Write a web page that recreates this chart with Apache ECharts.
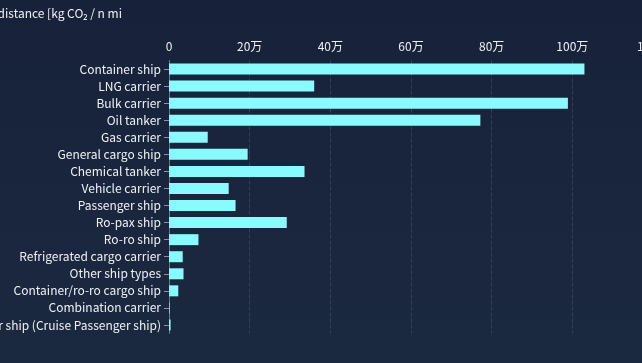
<!DOCTYPE html>
<html><head><meta charset="utf-8">
<script src="https://cdn.jsdelivr.net/npm/echarts@6/dist/echarts.min.js"></script>
<style>html,body{margin:0;padding:0;background:#18233a;}#c{width:642px;height:363px;}</style>
</head><body><div id="c"></div>
<script>
const categories = ["Container ship","LNG carrier","Bulk carrier","Oil tanker","Gas carrier","General cargo ship","Chemical tanker","Vehicle carrier","Passenger ship","Ro-pax ship","Ro-ro ship","Refrigerated cargo carrier","Other ship types","Container/ro-ro cargo ship","Combination carrier","Passenger ship (Cruise Passenger ship)"];
const values = [1030000,360000,989000,772000,96000,195000,336000,148000,165000,292000,73000,34000,36000,23000,1500,4000];
const titleText = "Average CO₂ emissions per distance [kg CO₂ / n mi";
const font = "'Noto Sans CJK SC', 'Noto Sans', sans-serif";
const chart = echarts.init(document.getElementById('c'));
chart.setOption({
  backgroundColor: new echarts.graphic.LinearGradient(0,0,0,1,[{offset:0,color:'#17223a'},{offset:1,color:'#1b2940'}]),
  title: {text: titleText, left: 117, top: 2, textAlign: 'right', textStyle: {color:'#eef1f5', fontSize: 12, fontWeight: 'normal', fontFamily: font}},
  grid: {left: 169, right: -11, top: 60.5, bottom: 29.5, containLabel: false, outerBoundsMode: 'none'},
  xAxis: {type:'value', position:'top', min:0, max:1200000, interval:200000,
    axisLabel:{color:'#eef1f5', fontSize:12, fontFamily:font, margin:8, formatter: v => v===0 ? '0' : (v/10000)+'万'},
    axisLine:{show:false}, axisTick:{show:false},
    splitLine:{show:true, lineStyle:{type:'dashed', color:'#34405a', width:1}}},
  yAxis: {type:'category', inverse:true, data: categories,
    axisLabel:{color:'#eef1f5', fontSize:12, fontFamily:font, margin:8},
    axisLine:{show:true, lineStyle:{color:'#6e7789'}},
    axisTick:{show:true, length:5, alignWithLabel:true, lineStyle:{color:'#8a93a3'}}},
  series: [{type:'bar', data: values, barWidth: 11,
    itemStyle:{color:'#88fcfc'}}]
});
</script></body></html>
